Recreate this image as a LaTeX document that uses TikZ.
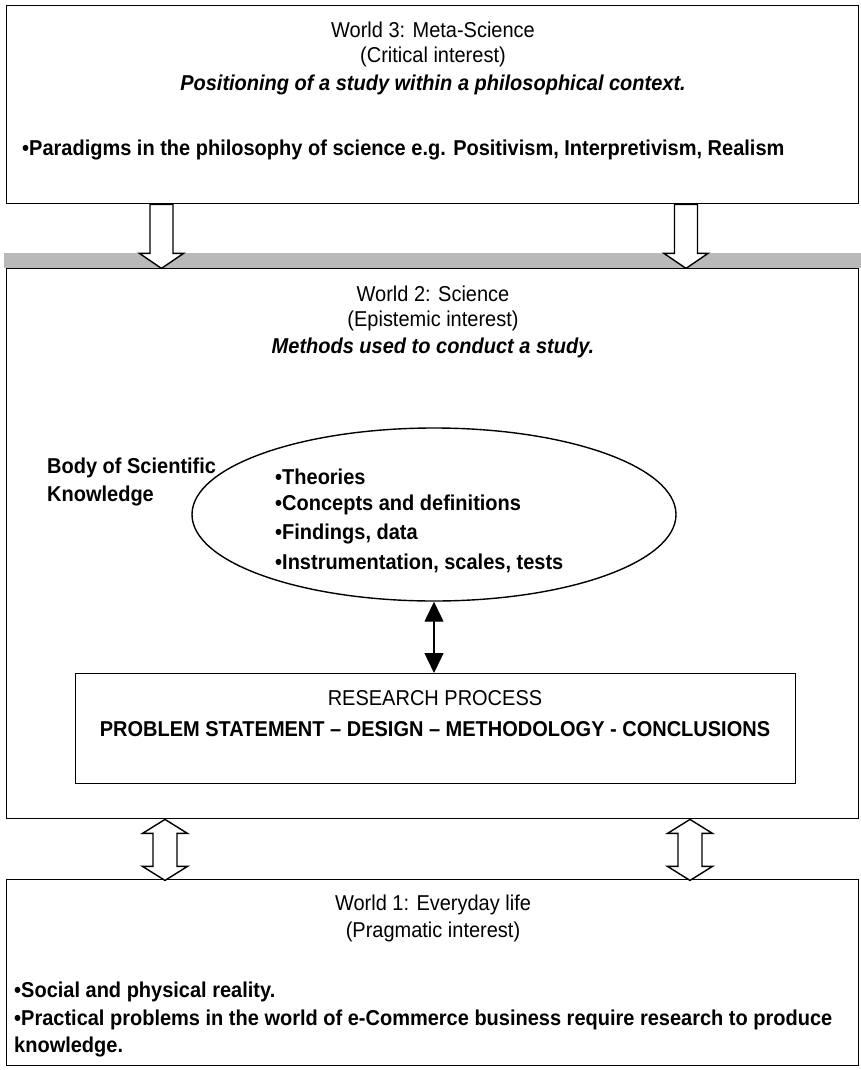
\documentclass[tikz,border=0pt]{standalone}
\usepackage{fontspec}
\setmainfont{Liberation Sans}[FakeStretch=0.93]
\usetikzlibrary{shapes.geometric,arrows.meta}
\begin{document}
\begin{tikzpicture}[x=1pt,y=-1pt,
  frame/.style={draw, line width=1.4pt, fill=white, inner sep=0pt, anchor=north west},
  body/.style={inner sep=0pt, font=\fontsize{21.5}{25}\selectfont},
  title/.style={body},
  slogan/.style={body, font=\fontsize{21.5}{25}\selectfont\bfseries\itshape},
  item/.style={body, anchor=west, font=\fontsize{21.5}{25}\selectfont\bfseries},
  hollow/.style={draw, line width=1.4pt, fill=white, line join=miter},
  pics/downarrow/.style={code={
    \path[hollow] (-11.5,0) -- (-11.5,49) -- (-22,49) -- (0,64) -- (22,49)
      -- (11.5,49) -- (11.5,0) -- cycle;}},
  pics/updownarrow/.style={code={
    \path[hollow] (0,0) -- (22.5,14) -- (12,14) -- (12,47) -- (22.5,47) -- (0,61)
      -- (-22.5,47) -- (-12,47) -- (-12,14) -- (-22.5,14) -- cycle;}}
]
\useasboundingbox (0,0) rectangle (861,1070);

% shaded band above World 2
\fill[gray!55] (4,253) rectangle (861,268);

% the three worlds
\node[frame, minimum width=852pt, minimum height=198pt] (w3) at (6,5) {};
\node[frame, minimum width=852pt, minimum height=550pt] (w2) at (6,268) {};
\node[frame, minimum width=852pt, minimum height=186pt] (w1) at (6,879) {};

% World 3 contents
\node[title] (w3a) at (433,30) {World 3: Meta-Science};
\node[title] (w3b) at (433,57) {(Critical interest)};
\node[slogan] (w3c) at (433,85) {Positioning of a study within a philosophical context.};
\node[item] (w3d) at (22,150) {•Paradigms in the philosophy of science e.g. Positivism, Interpretivism, Realism};

% World 2 contents
\node[title] (w2a) at (433,294) {World 2: Science};
\node[title] (w2b) at (433,321) {(Epistemic interest)};
\node[slogan] (w2c) at (433,348) {Methods used to conduct a study.};

\node[item] (bsk1) at (47,468) {Body of Scientific};
\node[item] (bsk2) at (47,496) {Knowledge};

\node[draw, ellipse, line width=1.4pt, minimum width=484pt, minimum height=173pt] (kb) at (434,514.5) {};
\node[item] (kb1) at (275,477) {•Theories};
\node[item] (kb2) at (275,505) {•Concepts and definitions};
\node[item] (kb3) at (275,534) {•Findings, data};
\node[item] (kb4) at (275,563) {•Instrumentation, scales, tests};

\node[frame, minimum width=720pt, minimum height=110pt] (rp) at (75,673) {};
\node[title] (rp1) at (435,698) {RESEARCH PROCESS};
\node[body, font=\fontsize{21.5}{25}\selectfont\bfseries] (rp2) at (435,729) {PROBLEM STATEMENT -- DESIGN -- METHODOLOGY - CONCLUSIONS};

\draw[line width=1.4pt, {Triangle[width=19pt,length=20pt]}-{Triangle[width=19pt,length=20pt]}]
  (kb.south) -- (kb.south |- rp.north);

% World 1 contents
\node[title] (w1a) at (433,905) {World 1: Everyday life};
\node[title] (w1b) at (433,932) {(Pragmatic interest)};
\node[item] (w1c) at (14,992) {•Social and physical reality.};
\node[item] (w1d) at (14,1020) {•Practical problems in the world of e-Commerce business require research to produce};
\node[item] (w1e) at (14,1047) {knowledge.};

% hollow arrows between the worlds
\coordinate (la) at (161.5,0);
\coordinate (ra) at (686,0);
\pic at (la |- w3.south) {downarrow};
\pic at (ra |- w3.south) {downarrow};
\coordinate (lb) at (165,0);
\coordinate (rb) at (690,0);
\pic at (lb |- w2.south) {updownarrow};
\pic at (rb |- w2.south) {updownarrow};
\end{tikzpicture}
\end{document}
